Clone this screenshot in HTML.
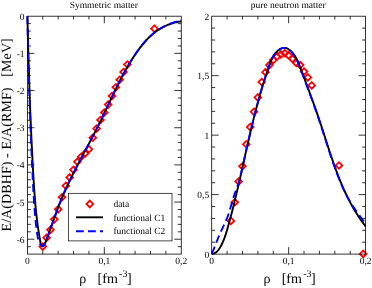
<!DOCTYPE html>
<html><head><meta charset="utf-8"><style>html,body{margin:0;padding:0;background:#fff;overflow:hidden}text{text-rendering:geometricPrecision}</style></head>
<body>
<div style="position:absolute;left:0;top:0;width:372px;height:288px;will-change:transform">
<svg width="372" height="288" viewBox="0 0 372 288" style="position:absolute;left:0;top:0;font-family:'Liberation Serif',serif">
<path d="M42.78,243.25 L46.13,246.6 L42.78,249.95 L39.43,246.6Z M46.63,234.4 L49.98,237.75 L46.63,241.1 L43.28,237.75Z M50.48,226.45 L53.83,229.8 L50.48,233.15 L47.13,229.8Z M54.32,215.95 L57.67,219.3 L54.32,222.65 L50.97,219.3Z M58.17,205.95 L61.52,209.3 L58.17,212.65 L54.82,209.3Z M62.02,193.9 L65.37,197.25 L62.02,200.6 L58.67,197.25Z M65.86,182.4 L69.21,185.75 L65.86,189.1 L62.51,185.75Z M69.71,174.05 L73.06,177.4 L69.71,180.75 L66.36,177.4Z M73.55,166.45 L76.9,169.8 L73.55,173.15 L70.2,169.8Z M77.4,158.4 L80.75,161.75 L77.4,165.1 L74.05,161.75Z M81.25,153.4 L84.6,156.75 L81.25,160.1 L77.9,156.75Z M85.09,150.05 L88.44,153.4 L85.09,156.75 L81.74,153.4Z M88.94,145.9 L92.29,149.25 L88.94,152.6 L85.59,149.25Z M92.79,134.4 L96.14,137.75 L92.79,141.1 L89.44,137.75Z M96.63,125.25 L99.98,128.6 L96.63,131.95 L93.28,128.6Z M100.48,116.65 L103.83,120 L100.48,123.35 L97.13,120Z M104.32,109.15 L107.67,112.5 L104.32,115.85 L100.97,112.5Z M108.17,101.25 L111.52,104.6 L108.17,107.95 L104.82,104.6Z M112.02,92.65 L115.37,96 L112.02,99.35 L108.67,96Z M115.86,83.9 L119.21,87.25 L115.86,90.6 L112.51,87.25Z M119.71,76.4 L123.06,79.75 L119.71,83.1 L116.36,79.75Z M123.56,68.65 L126.91,72 L123.56,75.35 L120.21,72Z M127.4,61.15 L130.75,64.5 L127.4,67.85 L124.05,64.5Z M154.5,25.35 L157.85,28.7 L154.5,32.05 L151.15,28.7Z M230.94,217.55 L234.29,220.9 L230.94,224.25 L227.59,220.9Z M234.78,198.9 L238.13,202.25 L234.78,205.6 L231.44,202.25Z M238.63,178.15 L241.98,181.5 L238.63,184.85 L235.28,181.5Z M242.48,162.9 L245.83,166.25 L242.48,169.6 L239.13,166.25Z M246.33,140.9 L249.68,144.25 L246.33,147.6 L242.98,144.25Z M250.18,123.75 L253.53,127.1 L250.18,130.45 L246.83,127.1Z M254.02,108.4 L257.37,111.75 L254.02,115.1 L250.67,111.75Z M257.87,94.05 L261.22,97.4 L257.87,100.75 L254.52,97.4Z M261.72,78.65 L265.07,82 L261.72,85.35 L258.37,82Z M265.56,68.85 L268.92,72.2 L265.56,75.55 L262.21,72.2Z M269.41,61.75 L272.76,65.1 L269.41,68.45 L266.06,65.1Z M273.26,56.75 L276.61,60.1 L273.26,63.45 L269.91,60.1Z M277.11,53.25 L280.46,56.6 L277.11,59.95 L273.76,56.6Z M280.95,51.05 L284.31,54.4 L280.95,57.75 L277.6,54.4Z M284.8,49.9 L288.15,53.25 L284.8,56.6 L281.45,53.25Z M288.65,52.05 L292,55.4 L288.65,58.75 L285.3,55.4Z M292.5,55.55 L295.85,58.9 L292.5,62.25 L289.15,58.9Z M296.35,59.65 L299.7,63 L296.35,66.35 L293,63Z M300.19,61.75 L303.54,65.1 L300.19,68.45 L296.84,65.1Z M304.04,68.25 L307.39,71.6 L304.04,74.95 L300.69,71.6Z M307.89,74.05 L311.24,77.4 L307.89,80.75 L304.54,77.4Z M311.74,82.05 L315.09,85.4 L311.74,88.75 L308.38,85.4Z M339,162.15 L342.35,165.5 L339,168.85 L335.65,165.5Z M363.2,250.55 L366.55,253.9 L363.2,257.25 L359.85,253.9Z" fill="none" stroke="#ff0000" stroke-width="1.8"/>
<path d="M27.4,16.2 L27.42,17.21 L27.45,18.22 L27.47,19.23 L27.49,20.24 L27.52,21.25 L27.54,22.25 L27.57,23.26 L27.59,24.27 L27.62,25.28 L27.64,26.29 L27.67,27.3 L27.69,28.31 L27.71,29.32 L27.74,30.33 L27.77,31.34 L27.79,32.35 L27.82,33.36 L27.84,34.37 L27.87,35.38 L27.89,36.39 L27.92,37.4 L27.94,38.41 L27.97,39.42 L28,40.43 L28.02,41.44 L28.05,42.45 L28.08,43.46 L28.1,44.47 L28.13,45.48 L28.16,46.49 L28.19,47.5 L28.21,48.51 L28.24,49.52 L28.27,50.53 L28.3,51.54 L28.32,52.55 L28.35,53.56 L28.38,54.57 L28.41,55.58 L28.44,56.59 L28.47,57.6 L28.5,58.61 L28.52,59.62 L28.55,60.63 L28.58,61.65 L28.61,62.66 L28.64,63.67 L28.67,64.68 L28.7,65.69 L28.73,66.7 L28.76,67.71 L28.79,68.72 L28.83,69.73 L28.86,70.74 L28.89,71.75 L28.92,72.76 L28.95,73.77 L28.98,74.78 L29.01,75.79 L29.05,76.81 L29.08,77.82 L29.11,78.83 L29.14,79.84 L29.18,80.85 L29.21,81.86 L29.24,82.87 L29.28,83.88 L29.31,84.89 L29.35,85.9 L29.38,86.91 L29.41,87.92 L29.45,88.93 L29.48,89.94 L29.52,90.96 L29.55,91.97 L29.59,92.98 L29.63,93.99 L29.66,95 L29.7,96.01 L29.73,97.02 L29.77,98.03 L29.81,99.04 L29.84,100.05 L29.88,101.06 L29.92,102.07 L29.96,103.08 L29.99,104.09 L30.03,105.1 L30.07,106.12 L30.11,107.13 L30.15,108.14 L30.19,109.15 L30.23,110.16 L30.27,111.17 L30.31,112.18 L30.35,113.19 L30.39,114.2 L30.43,115.21 L30.47,116.22 L30.51,117.23 L30.55,118.24 L30.59,119.25 L30.63,120.26 L30.68,121.27 L30.72,122.28 L30.76,123.29 L30.8,124.3 L30.85,125.31 L30.89,126.32 L30.94,127.33 L30.98,128.34 L31.02,129.35 L31.07,130.36 L31.11,131.37 L31.16,132.38 L31.2,133.39 L31.25,134.4 L31.3,135.41 L31.34,136.42 L31.39,137.43 L31.43,138.44 L31.48,139.45 L31.53,140.46 L31.58,141.47 L31.63,142.48 L31.67,143.49 L31.72,144.49 L31.77,145.5 L31.82,146.51 L31.87,147.52 L31.92,148.53 L31.97,149.54 L32.02,150.55 L32.07,151.56 L32.12,152.57 L32.17,153.58 L32.22,154.58 L32.28,155.59 L32.33,156.6 L32.38,157.61 L32.43,158.62 L32.49,159.63 L32.54,160.63 L32.59,161.64 L32.65,162.65 L32.7,163.66 L32.76,164.67 L32.81,165.68 L32.87,166.68 L32.92,167.69 L32.98,168.7 L33.04,169.71 L33.09,170.71 L33.15,171.72 L33.21,172.73 L33.27,173.74 L33.32,174.74 L33.38,175.75 L33.44,176.76 L33.5,177.77 L33.56,178.77 L33.62,179.78 L33.68,180.79 L33.74,181.79 L33.8,182.8 L33.87,183.81 L33.93,184.81 L33.99,185.82 L34.06,186.83 L34.13,187.83 L34.19,188.84 L34.26,189.85 L34.33,190.85 L34.4,191.86 L34.47,192.87 L34.54,193.87 L34.62,194.88 L34.69,195.88 L34.77,196.89 L34.85,197.9 L34.93,198.9 L35.01,199.91 L35.09,200.91 L35.17,201.92 L35.26,202.93 L35.34,203.93 L35.43,204.94 L35.52,205.95 L35.62,206.95 L35.71,207.96 L35.81,208.96 L35.91,209.97 L36.01,210.98 L36.11,211.98 L36.22,212.99 L36.32,213.99 L36.43,215 L36.54,216.01 L36.66,217.01 L36.78,218.02 L36.9,219.03 L37.02,220.03 L37.14,221.04 L37.27,222.05 L37.4,223.05 L37.53,224.06 L37.67,225.07 L37.8,226.07 L37.94,227.08 L38.09,228.09 L38.24,229.09 L38.39,230.1 L38.54,231.11 L38.7,232.11 L38.85,233.12 L39.02,234.13 L39.18,235.13 L39.35,236.14 L39.53,237.15 L39.7,238.16 L39.88,239.16 L40.06,240.17 L40.25,241.18 L40.46,242.18 L40.7,243.16 L41,244.12 L41.37,245.05 L41.82,245.9 L42.35,246.39 L42.96,246.25 L43.59,245.61 L44.16,244.79 L44.67,243.93 L45.12,243.03 L45.52,242.09 L45.9,241.15 L46.27,240.19 L46.63,239.23 L46.99,238.28 L47.35,237.32 L47.71,236.36 L48.06,235.4 L48.41,234.44 L48.76,233.49 L49.11,232.53 L49.46,231.57 L49.81,230.61 L50.15,229.65 L50.5,228.7 L50.84,227.74 L51.19,226.78 L51.53,225.82 L51.87,224.87 L52.21,223.91 L52.55,222.96 L52.89,222 L53.24,221.04 L53.58,220.09 L53.92,219.14 L54.26,218.18 L54.6,217.23 L54.95,216.28 L55.29,215.32 L55.63,214.37 L55.98,213.42 L56.33,212.47 L56.68,211.53 L57.03,210.58 L57.38,209.63 L57.73,208.68 L58.09,207.74 L58.44,206.8 L58.8,205.85 L59.16,204.91 L59.53,203.97 L59.89,203.03 L60.26,202.09 L60.63,201.16 L61,200.22 L61.38,199.29 L61.76,198.36 L62.14,197.42 L62.53,196.49 L62.92,195.57 L63.31,194.64 L63.71,193.71 L64.11,192.79 L64.51,191.87 L64.92,190.95 L65.33,190.03 L65.74,189.11 L66.16,188.19 L66.58,187.27 L67,186.36 L67.42,185.45 L67.85,184.53 L68.27,183.62 L68.71,182.71 L69.14,181.8 L69.57,180.89 L70.01,179.98 L70.45,179.08 L70.9,178.17 L71.34,177.27 L71.79,176.36 L72.24,175.46 L72.69,174.56 L73.14,173.66 L73.59,172.76 L74.05,171.86 L74.51,170.96 L74.97,170.06 L75.43,169.16 L75.89,168.26 L76.35,167.37 L76.82,166.47 L77.28,165.57 L77.75,164.68 L78.22,163.78 L78.69,162.89 L79.16,161.99 L79.63,161.1 L80.1,160.21 L80.58,159.31 L81.05,158.42 L81.52,157.53 L82,156.63 L82.47,155.74 L82.95,154.85 L83.43,153.96 L83.9,153.06 L84.38,152.17 L84.86,151.28 L85.33,150.39 L85.81,149.49 L86.29,148.6 L86.77,147.71 L87.24,146.82 L87.72,145.92 L88.2,145.03 L88.67,144.14 L89.15,143.24 L89.62,142.35 L90.1,141.46 L90.57,140.56 L91.04,139.67 L91.52,138.77 L91.99,137.88 L92.46,136.98 L92.93,136.08 L93.4,135.19 L93.87,134.29 L94.33,133.39 L94.8,132.49 L95.26,131.59 L95.73,130.69 L96.19,129.79 L96.65,128.89 L97.11,127.98 L97.56,127.08 L98.02,126.18 L98.47,125.27 L98.92,124.36 L99.37,123.46 L99.82,122.55 L100.27,121.64 L100.71,120.73 L101.16,119.82 L101.6,118.91 L102.04,118 L102.48,117.09 L102.91,116.17 L103.35,115.26 L103.79,114.34 L104.22,113.43 L104.65,112.52 L105.09,111.6 L105.52,110.68 L105.95,109.77 L106.38,108.85 L106.81,107.94 L107.24,107.02 L107.67,106.1 L108.1,105.19 L108.53,104.27 L108.96,103.36 L109.39,102.44 L109.82,101.52 L110.25,100.61 L110.68,99.69 L111.12,98.78 L111.55,97.86 L111.98,96.95 L112.41,96.04 L112.85,95.12 L113.28,94.21 L113.72,93.3 L114.16,92.39 L114.59,91.48 L115.03,90.57 L115.47,89.66 L115.92,88.75 L116.36,87.84 L116.8,86.94 L117.25,86.03 L117.7,85.13 L118.15,84.22 L118.6,83.32 L119.06,82.42 L119.51,81.52 L119.97,80.62 L120.43,79.72 L120.9,78.83 L121.36,77.93 L121.83,77.04 L122.3,76.15 L122.78,75.26 L123.25,74.37 L123.73,73.48 L124.22,72.6 L124.7,71.72 L125.19,70.83 L125.68,69.95 L126.18,69.08 L126.68,68.2 L127.18,67.33 L127.69,66.46 L128.2,65.59 L128.71,64.72 L129.23,63.85 L129.75,62.99 L130.28,62.13 L130.8,61.27 L131.34,60.41 L131.88,59.56 L132.42,58.71 L132.97,57.86 L133.52,57.01 L134.07,56.17 L134.64,55.33 L135.2,54.49 L135.77,53.65 L136.35,52.82 L136.93,51.99 L137.52,51.16 L138.11,50.34 L138.71,49.52 L139.31,48.71 L139.92,47.89 L140.53,47.09 L141.16,46.29 L141.79,45.49 L142.42,44.7 L143.07,43.92 L143.72,43.15 L144.37,42.38 L145.04,41.62 L145.72,40.87 L146.4,40.12 L147.09,39.39 L147.79,38.66 L148.5,37.95 L149.22,37.24 L149.94,36.55 L150.68,35.86 L151.43,35.19 L152.18,34.52 L152.95,33.87 L153.73,33.24 L154.52,32.61 L155.32,32 L156.13,31.4 L156.95,30.82 L157.78,30.25 L158.63,29.69 L159.48,29.15 L160.35,28.63 L161.23,28.12 L162.12,27.62 L163.02,27.14 L163.93,26.68 L164.84,26.23 L165.77,25.8 L166.7,25.39 L167.64,24.99 L168.59,24.61 L169.54,24.25 L170.5,23.91 L171.46,23.58 L172.43,23.27 L173.4,22.98 L174.38,22.7 L175.36,22.45 L176.34,22.21 L177.32,21.99 L178.3,21.79 L179.28,21.61 L180.27,21.44 L181.25,21.3" fill="none" stroke="#000" stroke-width="1.9"/>
<path d="M211.75,253.9 L212.66,253.8 L213.51,253.61 L214.31,253.32 L215.05,252.96 L215.74,252.53 L216.39,252.04 L217,251.49 L217.57,250.89 L218.11,250.25 L218.62,249.58 L219.11,248.89 L219.57,248.18 L220.02,247.45 L220.46,246.72 L220.87,245.98 L221.28,245.24 L221.67,244.49 L222.05,243.73 L222.41,242.97 L222.77,242.2 L223.11,241.42 L223.44,240.64 L223.76,239.86 L224.07,239.07 L224.37,238.28 L224.66,237.48 L224.95,236.68 L225.23,235.88 L225.5,235.07 L225.76,234.26 L226.02,233.45 L226.27,232.63 L226.52,231.81 L226.77,231 L227.01,230.18 L227.25,229.36 L227.48,228.54 L227.72,227.71 L227.95,226.89 L228.18,226.07 L228.41,225.25 L228.64,224.43 L228.87,223.6 L229.1,222.78 L229.32,221.96 L229.55,221.14 L229.77,220.32 L229.99,219.49 L230.21,218.67 L230.43,217.85 L230.65,217.03 L230.87,216.2 L231.09,215.38 L231.3,214.56 L231.52,213.73 L231.73,212.91 L231.94,212.09 L232.16,211.27 L232.37,210.44 L232.58,209.62 L232.79,208.8 L232.99,207.97 L233.2,207.15 L233.41,206.32 L233.61,205.5 L233.82,204.68 L234.02,203.85 L234.23,203.03 L234.43,202.21 L234.63,201.38 L234.83,200.56 L235.03,199.73 L235.23,198.91 L235.43,198.09 L235.63,197.26 L235.83,196.44 L236.02,195.61 L236.22,194.79 L236.41,193.96 L236.61,193.14 L236.8,192.32 L237,191.49 L237.19,190.67 L237.38,189.84 L237.58,189.02 L237.77,188.19 L237.96,187.37 L238.15,186.54 L238.34,185.72 L238.53,184.89 L238.72,184.07 L238.91,183.24 L239.09,182.42 L239.28,181.59 L239.47,180.77 L239.66,179.94 L239.84,179.12 L240.03,178.29 L240.22,177.47 L240.4,176.64 L240.59,175.82 L240.77,174.99 L240.96,174.17 L241.14,173.34 L241.33,172.52 L241.51,171.69 L241.7,170.87 L241.88,170.04 L242.07,169.22 L242.25,168.39 L242.43,167.57 L242.62,166.74 L242.8,165.92 L242.98,165.09 L243.17,164.27 L243.35,163.44 L243.53,162.62 L243.72,161.79 L243.9,160.97 L244.08,160.14 L244.27,159.32 L244.45,158.49 L244.63,157.67 L244.82,156.84 L245,156.02 L245.18,155.19 L245.37,154.37 L245.55,153.54 L245.73,152.72 L245.92,151.89 L246.1,151.07 L246.29,150.24 L246.47,149.42 L246.66,148.59 L246.84,147.77 L247.03,146.94 L247.21,146.12 L247.4,145.29 L247.59,144.47 L247.77,143.64 L247.96,142.82 L248.15,142 L248.33,141.17 L248.52,140.35 L248.71,139.52 L248.9,138.7 L249.09,137.87 L249.28,137.05 L249.47,136.22 L249.66,135.4 L249.85,134.58 L250.04,133.75 L250.23,132.93 L250.43,132.1 L250.62,131.28 L250.81,130.46 L251.01,129.63 L251.2,128.81 L251.4,127.98 L251.6,127.16 L251.79,126.34 L251.99,125.51 L252.19,124.69 L252.39,123.87 L252.59,123.04 L252.79,122.22 L252.99,121.4 L253.19,120.57 L253.39,119.75 L253.6,118.93 L253.8,118.1 L254.01,117.28 L254.21,116.46 L254.42,115.64 L254.63,114.81 L254.83,113.99 L255.04,113.17 L255.25,112.35 L255.47,111.52 L255.68,110.7 L255.89,109.88 L256.11,109.06 L256.32,108.24 L256.54,107.41 L256.75,106.59 L256.97,105.77 L257.19,104.95 L257.41,104.13 L257.63,103.31 L257.86,102.49 L258.08,101.66 L258.3,100.84 L258.53,100.02 L258.76,99.2 L258.98,98.38 L259.21,97.56 L259.44,96.74 L259.68,95.92 L259.91,95.1 L260.14,94.28 L260.38,93.46 L260.62,92.64 L260.85,91.82 L261.09,91 L261.33,90.18 L261.58,89.36 L261.82,88.54 L262.07,87.72 L262.31,86.9 L262.56,86.08 L262.81,85.26 L263.06,84.45 L263.31,83.63 L263.56,82.81 L263.82,81.99 L264.08,81.17 L264.33,80.35 L264.59,79.54 L264.85,78.72 L265.12,77.9 L265.38,77.08 L265.65,76.27 L265.91,75.45 L266.18,74.63 L266.45,73.81 L266.73,73 L267,72.18 L267.28,71.36 L267.55,70.55 L267.83,69.73 L268.11,68.92 L268.4,68.1 L268.68,67.28 L268.97,66.47 L269.26,65.65 L269.55,64.84 L269.84,64.03 L270.14,63.22 L270.45,62.41 L270.76,61.61 L271.08,60.82 L271.42,60.03 L271.76,59.26 L272.12,58.49 L272.5,57.74 L272.89,57 L273.3,56.28 L273.73,55.56 L274.18,54.87 L274.66,54.2 L275.15,53.54 L275.67,52.9 L276.22,52.29 L276.8,51.7 L277.4,51.13 L278.04,50.59 L278.7,50.08 L279.41,49.59 L280.14,49.14 L280.89,48.74 L281.66,48.39 L282.45,48.12 L283.24,47.93 L284.03,47.84 L284.81,47.85 L285.58,47.97 L286.33,48.18 L287.07,48.48 L287.8,48.84 L288.5,49.27 L289.19,49.74 L289.85,50.26 L290.49,50.79 L291.1,51.36 L291.69,51.94 L292.25,52.55 L292.8,53.17 L293.32,53.82 L293.82,54.48 L294.31,55.16 L294.78,55.86 L295.23,56.57 L295.66,57.29 L296.08,58.03 L296.48,58.78 L296.87,59.55 L297.25,60.32 L297.62,61.1 L297.98,61.89 L298.33,62.69 L298.67,63.49 L299,64.3 L299.33,65.12 L299.65,65.94 L299.97,66.76 L300.28,67.58 L300.59,68.4 L300.9,69.23 L301.21,70.05 L301.51,70.87 L301.82,71.68 L302.13,72.5 L302.43,73.32 L302.74,74.13 L303.05,74.94 L303.35,75.75 L303.65,76.56 L303.96,77.37 L304.26,78.18 L304.56,78.98 L304.87,79.79 L305.17,80.59 L305.47,81.4 L305.77,82.2 L306.07,83 L306.37,83.8 L306.67,84.6 L306.97,85.4 L307.27,86.19 L307.56,86.99 L307.86,87.78 L308.16,88.58 L308.45,89.37 L308.75,90.17 L309.04,90.96 L309.33,91.75 L309.63,92.55 L309.92,93.34 L310.21,94.13 L310.5,94.92 L310.79,95.71 L311.08,96.5 L311.37,97.29 L311.66,98.08 L311.95,98.87 L312.24,99.66 L312.52,100.45 L312.81,101.23 L313.1,102.02 L313.38,102.81 L313.66,103.6 L313.95,104.39 L314.23,105.18 L314.51,105.97 L314.79,106.76 L315.07,107.55 L315.35,108.34 L315.63,109.13 L315.91,109.92 L316.19,110.71 L316.46,111.5 L316.74,112.29 L317.01,113.08 L317.29,113.88 L317.56,114.67 L317.83,115.46 L318.1,116.26 L318.37,117.05 L318.64,117.85 L318.91,118.65 L319.18,119.44 L319.45,120.24 L319.72,121.04 L319.98,121.84 L320.25,122.64 L320.51,123.44 L320.78,124.24 L321.04,125.05 L321.3,125.85 L321.57,126.65 L321.83,127.46 L322.09,128.26 L322.35,129.07 L322.61,129.87 L322.87,130.68 L323.13,131.49 L323.39,132.29 L323.65,133.1 L323.91,133.91 L324.17,134.72 L324.43,135.53 L324.69,136.33 L324.95,137.14 L325.21,137.95 L325.47,138.76 L325.73,139.57 L325.99,140.38 L326.25,141.19 L326.51,142 L326.77,142.81 L327.03,143.62 L327.29,144.44 L327.56,145.25 L327.82,146.06 L328.08,146.87 L328.34,147.68 L328.61,148.49 L328.87,149.3 L329.14,150.11 L329.4,150.92 L329.67,151.73 L329.94,152.54 L330.2,153.35 L330.47,154.16 L330.74,154.97 L331.01,155.78 L331.29,156.58 L331.56,157.39 L331.83,158.2 L332.11,159.01 L332.38,159.81 L332.66,160.62 L332.94,161.43 L333.22,162.23 L333.5,163.04 L333.78,163.84 L334.06,164.65 L334.35,165.45 L334.63,166.25 L334.92,167.05 L335.21,167.86 L335.5,168.66 L335.79,169.46 L336.09,170.26 L336.38,171.05 L336.68,171.85 L336.98,172.65 L337.28,173.44 L337.58,174.24 L337.89,175.03 L338.19,175.83 L338.5,176.62 L338.81,177.41 L339.12,178.2 L339.44,178.99 L339.75,179.78 L340.07,180.57 L340.39,181.35 L340.71,182.14 L341.04,182.92 L341.37,183.71 L341.7,184.49 L342.03,185.27 L342.36,186.05 L342.7,186.83 L343.04,187.6 L343.38,188.38 L343.72,189.15 L344.07,189.93 L344.42,190.7 L344.77,191.47 L345.13,192.24 L345.49,193 L345.85,193.77 L346.21,194.53 L346.58,195.3 L346.95,196.06 L347.32,196.82 L347.69,197.58 L348.07,198.33 L348.45,199.09 L348.84,199.84 L349.22,200.59 L349.62,201.34 L350.01,202.09 L350.41,202.83 L350.81,203.58 L351.21,204.32 L351.62,205.06 L352.03,205.8 L352.44,206.54 L352.86,207.27 L353.28,208.01 L353.71,208.74 L354.13,209.47 L354.57,210.19 L355,210.92 L355.44,211.64 L355.88,212.36 L356.33,213.08 L356.78,213.8 L357.24,214.51 L357.7,215.22 L358.16,215.93 L358.62,216.64 L359.1,217.35 L359.57,218.05 L360.05,218.75 L360.53,219.45 L361.02,220.14 L361.51,220.84 L362.01,221.53 L362.51,222.22 L363.01,222.91 L363.52,223.59 L364.03,224.27 L364.55,224.95 L365.07,225.63 L365.6,226.3" fill="none" stroke="#000" stroke-width="1.9"/>
<path d="M27.4,16.2 L27.42,17.04 L27.43,17.88 L27.45,18.72 L27.46,19.57 L27.48,20.41 L27.5,21.25 L27.51,22.09 L27.53,22.93 L27.54,23.77 L27.56,24.62 L27.58,25.46 L27.59,26.3 L27.61,27.14 L27.63,27.98 L27.65,28.82 L27.66,29.66 L27.68,30.51 L27.7,31.35 L27.71,32.19 L27.73,33.03 L27.75,33.87 L27.77,34.71 L27.78,35.55 L27.8,36.4 L27.82,37.24 L27.84,38.08 L27.85,38.92 L27.87,39.76 L27.89,40.6 L27.91,41.44 L27.93,42.29 L27.95,43.13 L27.96,43.97 L27.98,44.81 L28,45.65 L28.02,46.49 L28.04,47.34 L28.06,48.18 L28.08,49.02 L28.1,49.86 L28.12,50.7 L28.13,51.54 L28.15,52.38 L28.17,53.23 L28.19,54.07 L28.21,54.91 L28.23,55.75 L28.25,56.59 L28.27,57.43 L28.29,58.27 L28.31,59.12 L28.34,59.96 L28.36,60.8 L28.38,61.64 L28.4,62.48 L28.42,63.32 L28.45,64.16 L28.47,65 L28.49,65.85 L28.52,66.69 L28.54,67.53 L28.56,68.37 L28.59,69.21 L28.61,70.05 L28.63,70.89 L28.66,71.74 L28.68,72.58 L28.71,73.42 L28.73,74.26 L28.76,75.1 L28.78,75.94 L28.8,76.78 L28.83,77.62 L28.85,78.47 L28.88,79.31 L28.9,80.15 L28.93,80.99 L28.96,81.83 L28.98,82.67 L29.01,83.51 L29.03,84.35 L29.06,85.2 L29.09,86.04 L29.11,86.88 L29.14,87.72 L29.16,88.56 L29.19,89.4 L29.22,90.24 L29.25,91.08 L29.27,91.93 L29.3,92.77 L29.33,93.61 L29.36,94.45 L29.38,95.29 L29.41,96.13 L29.44,96.97 L29.47,97.81 L29.5,98.66 L29.52,99.5 L29.55,100.34 L29.58,101.18 L29.61,102.02 L29.64,102.86 L29.67,103.7 L29.7,104.54 L29.73,105.38 L29.76,106.23 L29.79,107.07 L29.82,107.91 L29.85,108.75 L29.88,109.59 L29.91,110.43 L29.94,111.27 L29.97,112.11 L30.01,112.95 L30.04,113.8 L30.07,114.64 L30.1,115.48 L30.13,116.32 L30.16,117.16 L30.2,118 L30.23,118.84 L30.26,119.68 L30.29,120.52 L30.32,121.37 L30.35,122.21 L30.38,123.05 L30.41,123.89 L30.44,124.73 L30.47,125.57 L30.51,126.41 L30.54,127.25 L30.57,128.09 L30.6,128.94 L30.63,129.78 L30.66,130.62 L30.7,131.46 L30.73,132.3 L30.76,133.14 L30.79,133.98 L30.83,134.82 L30.86,135.66 L30.89,136.5 L30.93,137.35 L30.96,138.19 L30.99,139.03 L31.03,139.87 L31.06,140.71 L31.1,141.55 L31.13,142.39 L31.17,143.23 L31.2,144.07 L31.23,144.91 L31.27,145.76 L31.3,146.6 L31.33,147.44 L31.37,148.28 L31.4,149.12 L31.43,149.96 L31.47,150.8 L31.5,151.64 L31.54,152.48 L31.57,153.32 L31.61,154.17 L31.64,155.01 L31.68,155.85 L31.71,156.69 L31.75,157.53 L31.79,158.37 L31.82,159.21 L31.86,160.05 L31.9,160.89 L31.93,161.73 L31.97,162.57 L32.01,163.41 L32.05,164.26 L32.08,165.1 L32.12,165.94 L32.16,166.78 L32.2,167.62 L32.24,168.46 L32.28,169.3 L32.32,170.14 L32.36,170.98 L32.4,171.82 L32.44,172.66 L32.48,173.5 L32.52,174.34 L32.56,175.19 L32.6,176.03 L32.64,176.87 L32.68,177.71 L32.72,178.55 L32.76,179.39 L32.79,180.23 L32.84,181.07 L32.88,181.91 L32.92,182.75 L32.96,183.59 L33,184.43 L33.04,185.27 L33.09,186.11 L33.13,186.95 L33.18,187.8 L33.22,188.64 L33.27,189.48 L33.31,190.32 L33.36,191.16 L33.41,192 L33.46,192.84 L33.51,193.68 L33.56,194.52 L33.61,195.36 L33.66,196.2 L33.72,197.04 L33.77,197.88 L33.83,198.72 L33.88,199.56 L33.94,200.4 L33.99,201.24 L34.05,202.08 L34.1,202.92 L34.16,203.76 L34.22,204.6 L34.28,205.44 L34.34,206.28 L34.4,207.11 L34.46,207.95 L34.53,208.79 L34.59,209.63 L34.66,210.47 L34.73,211.31 L34.8,212.15 L34.87,212.99 L34.95,213.83 L35.02,214.66 L35.1,215.5 L35.17,216.34 L35.25,217.18 L35.33,218.02 L35.4,218.85 L35.48,219.69 L35.56,220.53 L35.65,221.37 L35.73,222.21 L35.82,223.04 L35.91,223.88 L36,224.72 L36.09,225.55 L36.19,226.39 L36.29,227.22 L36.38,228.06 L36.48,228.9 L36.58,229.73 L36.69,230.57 L36.8,231.4 L36.92,232.23 L37.05,233.07 L37.18,233.9 L37.31,234.73 L37.44,235.56 L37.58,236.39 L37.74,237.22 L37.91,238.05 L38.11,238.87 L38.34,239.68 L38.6,240.46 L38.91,241.22 L39.24,241.98 L39.59,242.77 L39.95,243.6 L40.35,244.44 L40.82,245.19 L41.42,245.72 L42.19,245.96 L43.06,245.85 L43.81,245.45 L44.35,244.83 L44.73,244.06 L45.04,243.23 L45.35,242.41 L45.67,241.63 L45.99,240.86 L46.31,240.1 L46.61,239.32 L46.91,238.53 L47.2,237.74 L47.49,236.94 L47.78,236.15 L48.07,235.36 L48.37,234.58 L48.66,233.79 L48.94,233 L49.23,232.2 L49.52,231.41 L49.81,230.62 L50.09,229.83 L50.38,229.04 L50.66,228.25 L50.95,227.45 L51.23,226.66 L51.51,225.87 L51.8,225.08 L52.08,224.28 L52.36,223.49 L52.64,222.7 L52.93,221.91 L53.21,221.11 L53.49,220.32 L53.78,219.53 L54.06,218.74 L54.35,217.94 L54.63,217.15 L54.92,216.36 L55.2,215.57 L55.49,214.78 L55.78,213.99 L56.06,213.19 L56.35,212.4 L56.64,211.61 L56.93,210.82 L57.23,210.04 L57.52,209.25 L57.82,208.46 L58.11,207.67 L58.41,206.88 L58.71,206.1 L59.01,205.31 L59.31,204.52 L59.62,203.74 L59.92,202.96 L60.23,202.17 L60.54,201.39 L60.85,200.61 L61.16,199.83 L61.48,199.05 L61.8,198.27 L62.12,197.49 L62.44,196.71 L62.77,195.94 L63.09,195.16 L63.42,194.39 L63.76,193.61 L64.09,192.84 L64.43,192.07 L64.77,191.3 L65.11,190.53 L65.45,189.76 L65.79,188.99 L66.14,188.23 L66.49,187.46 L66.84,186.69 L67.19,185.93 L67.55,185.17 L67.91,184.4 L68.26,183.64 L68.62,182.88 L68.99,182.12 L69.35,181.36 L69.71,180.6 L70.08,179.85 L70.45,179.09 L70.82,178.33 L71.19,177.58 L71.56,176.82 L71.93,176.07 L72.31,175.32 L72.68,174.56 L73.06,173.81 L73.44,173.06 L73.82,172.31 L74.2,171.56 L74.58,170.81 L74.97,170.06 L75.35,169.31 L75.74,168.56 L76.12,167.81 L76.51,167.06 L76.9,166.32 L77.28,165.57 L77.67,164.82 L78.06,164.08 L78.46,163.33 L78.85,162.59 L79.24,161.84 L79.63,161.1 L80.02,160.35 L80.42,159.61 L80.81,158.87 L81.21,158.12 L81.6,157.38 L82,156.64 L82.39,155.89 L82.79,155.15 L83.18,154.41 L83.58,153.67 L83.98,152.92 L84.37,152.18 L84.77,151.44 L85.17,150.7 L85.56,149.96 L85.96,149.21 L86.36,148.47 L86.76,147.73 L87.15,146.99 L87.55,146.24 L87.94,145.5 L88.34,144.76 L88.74,144.02 L89.13,143.27 L89.53,142.53 L89.92,141.79 L90.32,141.04 L90.71,140.3 L91.1,139.56 L91.5,138.81 L91.89,138.07 L92.28,137.32 L92.67,136.58 L93.06,135.83 L93.45,135.08 L93.84,134.34 L94.23,133.59 L94.62,132.84 L95,132.1 L95.39,131.35 L95.77,130.6 L96.16,129.85 L96.54,129.1 L96.92,128.35 L97.3,127.6 L97.68,126.85 L98.06,126.1 L98.44,125.34 L98.81,124.59 L99.19,123.84 L99.56,123.08 L99.93,122.33 L100.3,121.57 L100.67,120.82 L101.04,120.06 L101.41,119.3 L101.77,118.54 L102.14,117.79 L102.5,117.03 L102.87,116.27 L103.23,115.51 L103.59,114.75 L103.95,113.99 L104.32,113.23 L104.68,112.47 L105.04,111.71 L105.4,110.95 L105.75,110.19 L106.11,109.42 L106.47,108.66 L106.83,107.9 L107.19,107.14 L107.55,106.38 L107.9,105.61 L108.26,104.85 L108.62,104.09 L108.98,103.33 L109.33,102.57 L109.69,101.81 L110.05,101.04 L110.41,100.28 L110.77,99.52 L111.12,98.76 L111.48,98 L111.84,97.24 L112.2,96.48 L112.57,95.72 L112.93,94.96 L113.29,94.2 L113.65,93.44 L114.02,92.68 L114.38,91.92 L114.75,91.16 L115.11,90.4 L115.48,89.65 L115.85,88.89 L116.22,88.13 L116.59,87.38 L116.96,86.62 L117.33,85.87 L117.71,85.11 L118.08,84.36 L118.46,83.61 L118.84,82.86 L119.22,82.1 L119.6,81.35 L119.98,80.61 L120.37,79.86 L120.75,79.11 L121.14,78.36 L121.53,77.62 L121.92,76.87 L122.31,76.13 L122.71,75.38 L123.11,74.64 L123.51,73.9 L123.91,73.16 L124.31,72.42 L124.72,71.69 L125.13,70.95 L125.54,70.22 L125.95,69.48 L126.37,68.75 L126.78,68.02 L127.2,67.29 L127.63,66.56 L128.05,65.83 L128.48,65.11 L128.91,64.39 L129.34,63.66 L129.78,62.94 L130.22,62.23 L130.66,61.51 L131.1,60.79 L131.55,60.08 L132,59.37 L132.45,58.66 L132.91,57.95 L133.37,57.25 L133.83,56.54 L134.29,55.84 L134.76,55.14 L135.23,54.45 L135.71,53.75 L136.18,53.06 L136.67,52.37 L137.15,51.68 L137.64,50.99 L138.13,50.31 L138.63,49.63 L139.13,48.95 L139.63,48.28 L140.14,47.61 L140.65,46.94 L141.17,46.28 L141.69,45.62 L142.22,44.96 L142.75,44.31 L143.29,43.66 L143.83,43.02 L144.38,42.38 L144.93,41.74 L145.49,41.12 L146.06,40.49 L146.63,39.88 L147.21,39.26 L147.79,38.66 L148.38,38.06 L148.98,37.47 L149.59,36.88 L150.2,36.3 L150.82,35.73 L151.44,35.17 L152.08,34.62 L152.72,34.07 L153.37,33.53 L154.02,33 L154.68,32.48 L155.35,31.97 L156.03,31.47 L156.71,30.98 L157.4,30.5 L158.1,30.03 L158.81,29.58 L159.52,29.13 L160.24,28.69 L160.96,28.25 L161.68,27.82 L162.41,27.4 L163.15,27 L163.89,26.6 L164.64,26.21 L165.4,25.84 L166.16,25.48 L166.92,25.13 L167.69,24.78 L168.46,24.44 L169.23,24.11 L170.01,23.79 L170.79,23.47 L171.57,23.16 L172.36,22.87 L173.16,22.59 L173.95,22.32 L174.75,22.06 L175.56,21.81 L176.36,21.57 L177.17,21.33 L177.98,21.1 L178.79,20.88 L179.61,20.68 L180.43,20.48 L181.25,20.3" fill="none" stroke="#0000ff" stroke-width="1.9" stroke-dasharray="7.8 4.2"/>
<path d="M211.75,253.9 L212.17,252.94 L212.59,251.98 L212.99,251.01 L213.39,250.04 L213.78,249.07 L214.17,248.1 L214.56,247.12 L214.94,246.15 L215.32,245.17 L215.7,244.19 L216.08,243.22 L216.46,242.24 L216.84,241.26 L217.22,240.29 L217.61,239.32 L218,238.35 L218.4,237.38 L218.81,236.41 L219.22,235.45 L219.64,234.49 L220.06,233.53 L220.49,232.57 L220.92,231.62 L221.35,230.66 L221.79,229.71 L222.23,228.76 L222.67,227.81 L223.11,226.86 L223.55,225.91 L223.99,224.96 L224.43,224.01 L224.87,223.06 L225.31,222.1 L225.75,221.15 L226.17,220.19 L226.59,219.23 L226.99,218.26 L227.37,217.29 L227.74,216.31 L228.09,215.32 L228.44,214.33 L228.77,213.34 L229.1,212.34 L229.41,211.34 L229.72,210.34 L230.02,209.34 L230.32,208.33 L230.62,207.32 L230.91,206.31 L231.2,205.31 L231.49,204.3 L231.78,203.29 L232.07,202.28 L232.36,201.28 L232.66,200.27 L232.96,199.27 L233.26,198.26 L233.57,197.26 L233.88,196.26 L234.2,195.26 L234.52,194.27 L234.85,193.27 L235.19,192.28 L235.54,191.29 L235.89,190.31 L236.26,189.32 L236.63,188.34 L236.99,187.36 L237.36,186.37 L237.73,185.39 L238.09,184.41 L238.44,183.42 L238.78,182.43 L239.11,181.43 L239.43,180.44 L239.72,179.43 L240,178.42 L240.25,177.41 L240.49,176.39 L240.71,175.36 L240.93,174.34 L241.15,173.31 L241.37,172.29 L241.6,171.27 L241.83,170.24 L242.06,169.22 L242.29,168.2 L242.52,167.18 L242.75,166.16 L242.98,165.13 L243.2,164.11 L243.43,163.09 L243.66,162.06 L243.88,161.04 L244.11,160.02 L244.34,159 L244.56,157.97 L244.79,156.95 L245.02,155.93 L245.25,154.9 L245.47,153.88 L245.7,152.86 L245.93,151.84 L246.16,150.81 L246.39,149.79 L246.62,148.77 L246.85,147.75 L247.08,146.72 L247.31,145.7 L247.54,144.68 L247.77,143.66 L248,142.64 L248.23,141.61 L248.47,140.59 L248.7,139.57 L248.93,138.55 L249.17,137.53 L249.4,136.51 L249.64,135.49 L249.88,134.47 L250.11,133.45 L250.35,132.43 L250.59,131.41 L250.83,130.39 L251.07,129.37 L251.31,128.35 L251.56,127.33 L251.8,126.31 L252.04,125.29 L252.29,124.27 L252.54,123.25 L252.78,122.23 L253.03,121.22 L253.28,120.2 L253.53,119.18 L253.79,118.16 L254.04,117.15 L254.29,116.13 L254.55,115.12 L254.81,114.1 L255.07,113.08 L255.33,112.07 L255.59,111.05 L255.85,110.04 L256.11,109.03 L256.38,108.01 L256.65,107 L256.91,105.99 L257.18,104.97 L257.46,103.96 L257.73,102.95 L258,101.94 L258.28,100.93 L258.56,99.92 L258.84,98.91 L259.12,97.9 L259.4,96.89 L259.69,95.88 L259.97,94.88 L260.26,93.87 L260.55,92.86 L260.84,91.85 L261.14,90.85 L261.43,89.84 L261.73,88.84 L262.03,87.84 L262.33,86.83 L262.64,85.83 L262.94,84.83 L263.25,83.83 L263.56,82.82 L263.87,81.82 L264.19,80.82 L264.5,79.83 L264.82,78.83 L265.14,77.83 L265.46,76.83 L265.79,75.84 L266.11,74.84 L266.44,73.85 L266.78,72.85 L267.11,71.86 L267.45,70.87 L267.78,69.88 L268.12,68.88 L268.47,67.89 L268.81,66.9 L269.16,65.92 L269.51,64.93 L269.87,63.95 L270.24,62.96 L270.61,61.99 L271,61.01 L271.41,60.05 L271.84,59.09 L272.29,58.14 L272.77,57.21 L273.29,56.3 L273.84,55.4 L274.42,54.53 L275.05,53.69 L275.71,52.88 L276.41,52.1 L277.15,51.35 L277.93,50.65 L278.76,50 L279.63,49.41 L280.55,48.9 L281.54,48.47 L282.57,48.14 L283.62,47.93 L284.67,47.88 L285.7,48.01 L286.68,48.32 L287.63,48.78 L288.53,49.36 L289.38,50.01 L290.19,50.71 L290.96,51.44 L291.68,52.2 L292.37,52.98 L293.02,53.79 L293.65,54.63 L294.24,55.49 L294.81,56.38 L295.35,57.28 L295.87,58.19 L296.36,59.12 L296.83,60.06 L297.28,61 L297.71,61.96 L298.13,62.92 L298.53,63.89 L298.92,64.86 L299.31,65.83 L299.69,66.81 L300.06,67.79 L300.43,68.77 L300.8,69.75 L301.17,70.73 L301.53,71.71 L301.9,72.69 L302.27,73.67 L302.64,74.65 L303.01,75.64 L303.37,76.62 L303.74,77.6 L304.11,78.58 L304.48,79.56 L304.85,80.54 L305.22,81.52 L305.58,82.5 L305.95,83.48 L306.32,84.46 L306.69,85.45 L307.05,86.43 L307.42,87.41 L307.79,88.39 L308.15,89.37 L308.52,90.35 L308.88,91.34 L309.24,92.32 L309.61,93.3 L309.97,94.28 L310.33,95.27 L310.69,96.25 L311.05,97.24 L311.41,98.22 L311.77,99.2 L312.13,100.19 L312.49,101.17 L312.84,102.16 L313.2,103.14 L313.55,104.13 L313.91,105.12 L314.26,106.1 L314.61,107.09 L314.96,108.08 L315.31,109.07 L315.66,110.06 L316,111.04 L316.35,112.03 L316.69,113.02 L317.03,114.01 L317.37,115 L317.71,116 L318.05,116.99 L318.39,117.98 L318.72,118.97 L319.06,119.97 L319.39,120.96 L319.72,121.95 L320.05,122.95 L320.38,123.94 L320.7,124.94 L321.03,125.93 L321.36,126.93 L321.68,127.93 L322,128.92 L322.33,129.92 L322.65,130.92 L322.97,131.91 L323.29,132.91 L323.61,133.91 L323.93,134.91 L324.25,135.9 L324.57,136.9 L324.89,137.9 L325.21,138.9 L325.53,139.89 L325.85,140.89 L326.17,141.89 L326.49,142.89 L326.82,143.88 L327.14,144.88 L327.46,145.88 L327.78,146.88 L328.11,147.87 L328.43,148.87 L328.76,149.86 L329.08,150.86 L329.41,151.86 L329.74,152.85 L330.07,153.84 L330.4,154.84 L330.73,155.83 L331.07,156.83 L331.4,157.82 L331.74,158.81 L332.08,159.8 L332.42,160.79 L332.76,161.78 L333.1,162.77 L333.45,163.76 L333.8,164.75 L334.15,165.74 L334.5,166.72 L334.86,167.71 L335.21,168.69 L335.57,169.68 L335.94,170.66 L336.3,171.64 L336.67,172.62 L337.04,173.61 L337.41,174.58 L337.79,175.56 L338.17,176.54 L338.55,177.51 L338.94,178.49 L339.33,179.46 L339.72,180.43 L340.11,181.4 L340.51,182.37 L340.91,183.34 L341.32,184.31 L341.72,185.27 L342.14,186.24 L342.56,187.2 L342.99,188.15 L343.42,189.1 L343.87,190.05 L344.33,190.99 L344.79,191.93 L345.26,192.87 L345.74,193.8 L346.23,194.73 L346.72,195.66 L347.21,196.58 L347.72,197.5 L348.22,198.42 L348.74,199.33 L349.27,200.23 L349.8,201.14 L350.34,202.03 L350.9,202.92 L351.45,203.81 L352.02,204.69 L352.59,205.57 L353.16,206.45 L353.74,207.32 L354.33,208.19 L354.91,209.06 L355.5,209.93 L356.1,210.79 L356.69,211.65 L357.3,212.51 L357.9,213.36 L358.52,214.21 L359.13,215.06 L359.75,215.9 L360.38,216.74 L361.01,217.58 L361.65,218.41 L362.29,219.24 L362.94,220.06 L363.6,220.88 L364.26,221.69 L364.93,222.5 L365.6,223.3" fill="none" stroke="#0000ff" stroke-width="1.9" stroke-dasharray="7.8 4.2"/>
<rect x="27.4" y="16.2" width="153.85" height="237.9" fill="none" stroke="#000" stroke-width="0.8"/>
<path d="M42.78,254.1 v-3.3 M42.78,16.2 v3.3 M58.17,254.1 v-3.3 M58.17,16.2 v3.3 M73.55,254.1 v-3.3 M73.55,16.2 v3.3 M88.94,254.1 v-3.3 M88.94,16.2 v3.3 M104.32,254.1 v-7 M104.32,16.2 v7 M119.71,254.1 v-3.3 M119.71,16.2 v3.3 M135.09,254.1 v-3.3 M135.09,16.2 v3.3 M150.48,254.1 v-3.3 M150.48,16.2 v3.3 M165.86,254.1 v-3.3 M165.86,16.2 v3.3 M27.4,53.37 h7 M181.25,53.37 h-7 M27.4,90.54 h7 M181.25,90.54 h-7 M27.4,127.72 h7 M181.25,127.72 h-7 M27.4,164.89 h7 M181.25,164.89 h-7 M27.4,202.06 h7 M181.25,202.06 h-7 M27.4,239.23 h7 M181.25,239.23 h-7 M27.4,23.63 h3.5 M181.25,23.63 h-3.5 M27.4,31.07 h3.5 M181.25,31.07 h-3.5 M27.4,38.5 h3.5 M181.25,38.5 h-3.5 M27.4,45.94 h3.5 M181.25,45.94 h-3.5 M27.4,60.81 h3.5 M181.25,60.81 h-3.5 M27.4,68.24 h3.5 M181.25,68.24 h-3.5 M27.4,75.67 h3.5 M181.25,75.67 h-3.5 M27.4,83.11 h3.5 M181.25,83.11 h-3.5 M27.4,97.98 h3.5 M181.25,97.98 h-3.5 M27.4,105.41 h3.5 M181.25,105.41 h-3.5 M27.4,112.85 h3.5 M181.25,112.85 h-3.5 M27.4,120.28 h3.5 M181.25,120.28 h-3.5 M27.4,135.15 h3.5 M181.25,135.15 h-3.5 M27.4,142.58 h3.5 M181.25,142.58 h-3.5 M27.4,150.02 h3.5 M181.25,150.02 h-3.5 M27.4,157.45 h3.5 M181.25,157.45 h-3.5 M27.4,172.32 h3.5 M181.25,172.32 h-3.5 M27.4,179.76 h3.5 M181.25,179.76 h-3.5 M27.4,187.19 h3.5 M181.25,187.19 h-3.5 M27.4,194.63 h3.5 M181.25,194.63 h-3.5 M27.4,209.49 h3.5 M181.25,209.49 h-3.5 M27.4,216.93 h3.5 M181.25,216.93 h-3.5 M27.4,224.36 h3.5 M181.25,224.36 h-3.5 M27.4,231.8 h3.5 M181.25,231.8 h-3.5 M27.4,246.67 h3.5 M181.25,246.67 h-3.5" stroke="#000" stroke-width="0.8" fill="none"/>
<rect x="211.7" y="16.2" width="153.9" height="237.9" fill="none" stroke="#000" stroke-width="0.8"/>
<path d="M227.09,254.1 v-3.3 M227.09,16.2 v3.3 M242.48,254.1 v-3.3 M242.48,16.2 v3.3 M257.87,254.1 v-3.3 M257.87,16.2 v3.3 M273.26,254.1 v-3.3 M273.26,16.2 v3.3 M288.65,254.1 v-7 M288.65,16.2 v7 M304.04,254.1 v-3.3 M304.04,16.2 v3.3 M319.43,254.1 v-3.3 M319.43,16.2 v3.3 M334.82,254.1 v-3.3 M334.82,16.2 v3.3 M350.21,254.1 v-3.3 M350.21,16.2 v3.3 M211.7,194.62 h7 M365.6,194.62 h-7 M211.7,135.15 h7 M365.6,135.15 h-7 M211.7,75.67 h7 M365.6,75.67 h-7 M211.7,28.09 h3.5 M365.6,28.09 h-3.5 M211.7,39.99 h3.5 M365.6,39.99 h-3.5 M211.7,51.89 h3.5 M365.6,51.89 h-3.5 M211.7,63.78 h3.5 M365.6,63.78 h-3.5 M211.7,87.57 h3.5 M365.6,87.57 h-3.5 M211.7,99.47 h3.5 M365.6,99.47 h-3.5 M211.7,111.36 h3.5 M365.6,111.36 h-3.5 M211.7,123.26 h3.5 M365.6,123.26 h-3.5 M211.7,147.05 h3.5 M365.6,147.05 h-3.5 M211.7,158.94 h3.5 M365.6,158.94 h-3.5 M211.7,170.84 h3.5 M365.6,170.84 h-3.5 M211.7,182.73 h3.5 M365.6,182.73 h-3.5 M211.7,206.52 h3.5 M365.6,206.52 h-3.5 M211.7,218.42 h3.5 M365.6,218.42 h-3.5 M211.7,230.31 h3.5 M365.6,230.31 h-3.5 M211.7,242.21 h3.5 M365.6,242.21 h-3.5" stroke="#000" stroke-width="0.8" fill="none"/>
<rect x="68.6" y="193.3" width="103.4" height="47.6" fill="#fff" stroke="#000" stroke-width="0.7"/>
<path d="M89.8,200.6 L93.2,204 L89.8,207.4 L86.4,204Z" fill="none" stroke="#ff0000" stroke-width="1.8"/>
<path d="M76,217.3 H103" stroke="#000" stroke-width="1.9"/>
<path d="M76,231.2 H103" stroke="#0000ff" stroke-width="1.9" stroke-dasharray="7.8 4.2"/>
<g font-size="9.5" fill="#000">
<text x="113.4" y="207.3">data</text><text x="113.4" y="220.9">functional C1</text><text x="113.4" y="234.3">functional C2</text>
<text x="103.8" y="7.9" text-anchor="middle">Symmetric matter</text>
<text x="288.2" y="7.9" text-anchor="middle">pure neutron matter</text>
<text x="24.6" y="19.75" text-anchor="end">0</text>
<text x="24.6" y="56.92" text-anchor="end">-1</text>
<text x="24.6" y="94.09" text-anchor="end">-2</text>
<text x="24.6" y="131.27" text-anchor="end">-3</text>
<text x="24.6" y="168.44" text-anchor="end">-4</text>
<text x="24.6" y="205.61" text-anchor="end">-5</text>
<text x="24.6" y="242.78" text-anchor="end">-6</text>
<text x="209.2" y="19.75" text-anchor="end">2</text>
<text x="209.2" y="79.22" text-anchor="end">1,5</text>
<text x="209.2" y="138.7" text-anchor="end">1</text>
<text x="209.2" y="198.18" text-anchor="end">0,5</text>
<text x="209.2" y="257.65" text-anchor="end">0</text>
<text x="27.4" y="264.4" text-anchor="middle">0</text>
<text x="104.33" y="264.4" text-anchor="middle">0,1</text>
<text x="181.25" y="264.4" text-anchor="middle">0,2</text>
<text x="211.7" y="264.4" text-anchor="middle">0</text>
<text x="288.65" y="264.4" text-anchor="middle">0,1</text>
<text x="365.6" y="264.4" text-anchor="middle">0,2</text>
</g>
<g font-size="14" fill="#000">
<text xml:space="preserve" transform="translate(10.5,231.5) rotate(-90)" textLength="193.3" lengthAdjust="spacing">E/A(DBHF) - E/A(RMF)   [MeV]</text>
<text x="79.3" y="282.7">ρ</text><text x="97.6" y="282.7">[fm</text><text x="119.1" y="276.9" font-size="10">-3</text><text x="126.9" y="282.7">]</text>
<text x="263.4" y="282.7">ρ</text><text x="281.7" y="282.7">[fm</text><text x="303.2" y="276.9" font-size="10">-3</text><text x="311" y="282.7">]</text>
</g>
</svg>
</div>
</body></html>
